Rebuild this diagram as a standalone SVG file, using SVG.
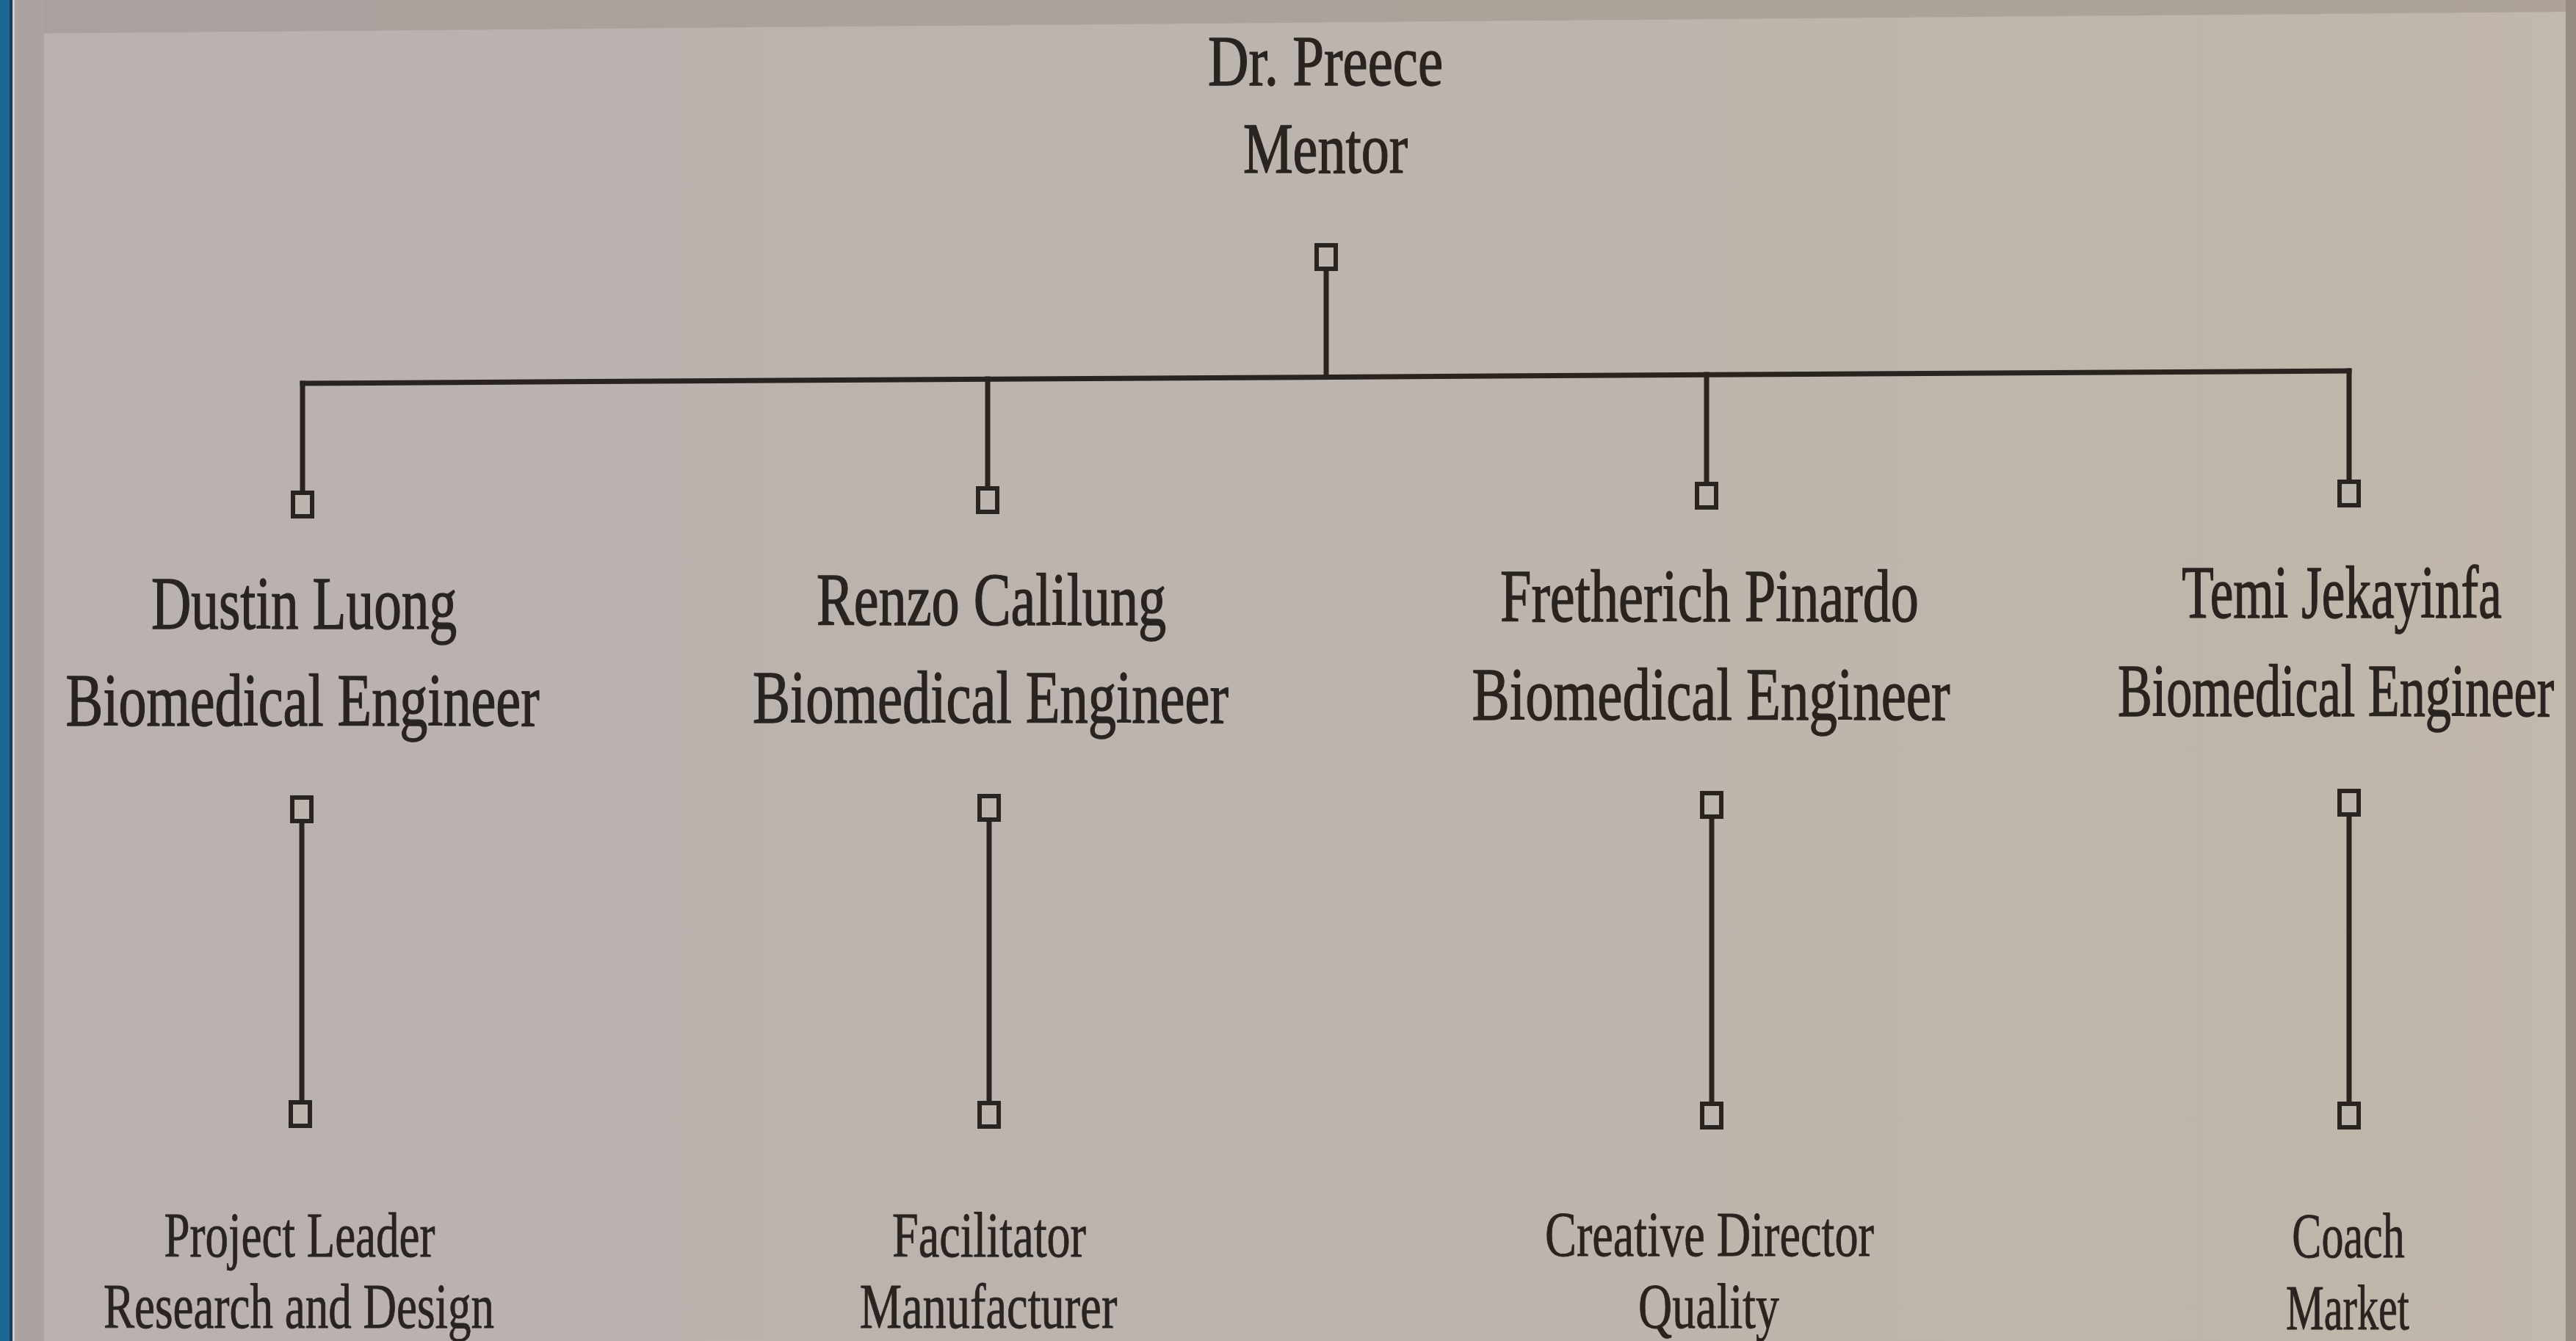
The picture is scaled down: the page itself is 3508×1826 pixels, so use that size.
<svg xmlns="http://www.w3.org/2000/svg" width="3508" height="1826" viewBox="0 0 3508 1826">
<defs>
<linearGradient id="bg" x1="0" y1="0" x2="1" y2="0">
<stop offset="0" stop-color="#b9b1ae"/>
<stop offset="0.5" stop-color="#bcb4ae"/>
<stop offset="0.97" stop-color="#c0b6aa"/>
<stop offset="1" stop-color="#c3baae"/>
</linearGradient>
<linearGradient id="topband" x1="0" y1="0" x2="1" y2="0">
<stop offset="0" stop-color="#a9a19e"/>
<stop offset="1" stop-color="#ada397"/>
</linearGradient>
</defs>
<style>
.t{font-family:"Liberation Serif","Times New Roman",serif;fill:#2a2421;stroke:#2a2421;stroke-width:1.4;text-anchor:middle;}
.name{font-size:102px;}
.top{font-size:98px;}
.role{font-size:86px;stroke-width:0.8;}
.ln{stroke:#2a2421;stroke-width:7;fill:none;stroke-linecap:square;}
.port{stroke:#2a2421;stroke-width:6;fill:#bdb5af;}
</style>
<g id="background">
<rect x="0" y="0" width="3508" height="1826" fill="url(#bg)"/>
<polygon points="0,0 3508,0 3508,16 0,46" fill="url(#topband)"/>
<rect x="18" y="0" width="42" height="1826" fill="#aaa3a1"/>
<rect x="0" y="0" width="14" height="1826" fill="#1b6894"/>
<rect x="13" y="0" width="4" height="1826" fill="#123f5c"/>
<rect x="17" y="0" width="3" height="1826" fill="#cfcaca"/>
<rect x="3494" y="0" width="14" height="1826" fill="#968c81"/>
</g>
<g id="connectors">
<line class="ln" x1="1806" y1="369" x2="1806" y2="513"/>
<line class="ln" x1="412" y1="522" x2="3199" y2="505"/>
<line class="ln" x1="412" y1="522" x2="412" y2="668"/>
<line class="ln" x1="1345" y1="516" x2="1345" y2="662"/>
<line class="ln" x1="2324" y1="510" x2="2324" y2="656"/>
<line class="ln" x1="3199" y1="505" x2="3199" y2="653"/>
<line class="ln" x1="411" y1="1120" x2="411" y2="1498"/>
<line class="ln" x1="1347" y1="1118" x2="1347" y2="1499"/>
<line class="ln" x1="2331" y1="1114" x2="2331" y2="1500"/>
<line class="ln" x1="3199" y1="1111" x2="3199" y2="1500"/>
<rect class="port" x="1793" y="334" width="26" height="32"/>
<rect class="port" x="399" y="671" width="26" height="32"/>
<rect class="port" x="1332" y="665" width="26" height="32"/>
<rect class="port" x="2311" y="659" width="26" height="32"/>
<rect class="port" x="3186" y="656" width="26" height="32"/>
<rect class="port" x="398" y="1086" width="26" height="32"/>
<rect class="port" x="396" y="1501" width="26" height="32"/>
<rect class="port" x="1334" y="1084" width="26" height="32"/>
<rect class="port" x="1334" y="1502" width="26" height="32"/>
<rect class="port" x="2318" y="1080" width="26" height="32"/>
<rect class="port" x="2318" y="1503" width="26" height="32"/>
<rect class="port" x="3186" y="1077" width="26" height="32"/>
<rect class="port" x="3186" y="1503" width="26" height="32"/>
</g>
<g id="node-preece">
<text class="t top" transform="translate(1805,116) scale(0.75,1)" x="0" y="0" textLength="427" lengthAdjust="spacingAndGlyphs">Dr. Preece</text>
<text class="t top" transform="translate(1805,235) scale(0.75,1)" x="0" y="0" textLength="299" lengthAdjust="spacingAndGlyphs">Mentor</text>
</g>
<g id="node-luong">
<text class="t name" transform="translate(414,856) scale(0.75,1)" x="0" y="0" textLength="555" lengthAdjust="spacingAndGlyphs">Dustin Luong</text>
<text class="t name" transform="translate(412,988) scale(0.75,1)" x="0" y="0" textLength="860" lengthAdjust="spacingAndGlyphs">Biomedical Engineer</text>
</g>
<g id="node-calilung">
<text class="t name" transform="translate(1350,851) scale(0.75,1)" x="0" y="0" textLength="635" lengthAdjust="spacingAndGlyphs">Renzo Calilung</text>
<text class="t name" transform="translate(1349,984) scale(0.75,1)" x="0" y="0" textLength="864" lengthAdjust="spacingAndGlyphs">Biomedical Engineer</text>
</g>
<g id="node-pinardo">
<text class="t name" transform="translate(2328,846) scale(0.75,1)" x="0" y="0" textLength="760" lengthAdjust="spacingAndGlyphs">Fretherich Pinardo</text>
<text class="t name" transform="translate(2330,980) scale(0.75,1)" x="0" y="0" textLength="868" lengthAdjust="spacingAndGlyphs">Biomedical Engineer</text>
</g>
<g id="node-jekayinfa">
<text class="t name" transform="translate(3189,841) scale(0.75,1)" x="0" y="0" textLength="581" lengthAdjust="spacingAndGlyphs">Temi Jekayinfa</text>
<text class="t name" transform="translate(3181,975) scale(0.75,1)" x="0" y="0" textLength="792" lengthAdjust="spacingAndGlyphs">Biomedical Engineer</text>
</g>
<g id="role-luong">
<text class="t role" transform="translate(408,1711) scale(0.7,1)" x="0" y="0" textLength="527" lengthAdjust="spacingAndGlyphs">Project Leader</text>
<text class="t role" transform="translate(407,1808) scale(0.7,1)" x="0" y="0" textLength="760" lengthAdjust="spacingAndGlyphs">Research and Design</text>
</g>
<g id="role-calilung">
<text class="t role" transform="translate(1347,1711) scale(0.7,1)" x="0" y="0" textLength="377" lengthAdjust="spacingAndGlyphs">Facilitator</text>
<text class="t role" transform="translate(1346,1808) scale(0.7,1)" x="0" y="0" textLength="501" lengthAdjust="spacingAndGlyphs">Manufacturer</text>
</g>
<g id="role-pinardo">
<text class="t role" transform="translate(2328,1710) scale(0.7,1)" x="0" y="0" textLength="640" lengthAdjust="spacingAndGlyphs">Creative Director</text>
<text class="t role" transform="translate(2327,1808) scale(0.7,1)" x="0" y="0" textLength="274" lengthAdjust="spacingAndGlyphs">Quality</text>
</g>
<g id="role-jekayinfa">
<text class="t role" transform="translate(3198,1712) scale(0.7,1)" x="0" y="0" textLength="219" lengthAdjust="spacingAndGlyphs">Coach</text>
<text class="t role" transform="translate(3197,1810) scale(0.7,1)" x="0" y="0" textLength="240" lengthAdjust="spacingAndGlyphs">Market</text>
</g>
</svg>
